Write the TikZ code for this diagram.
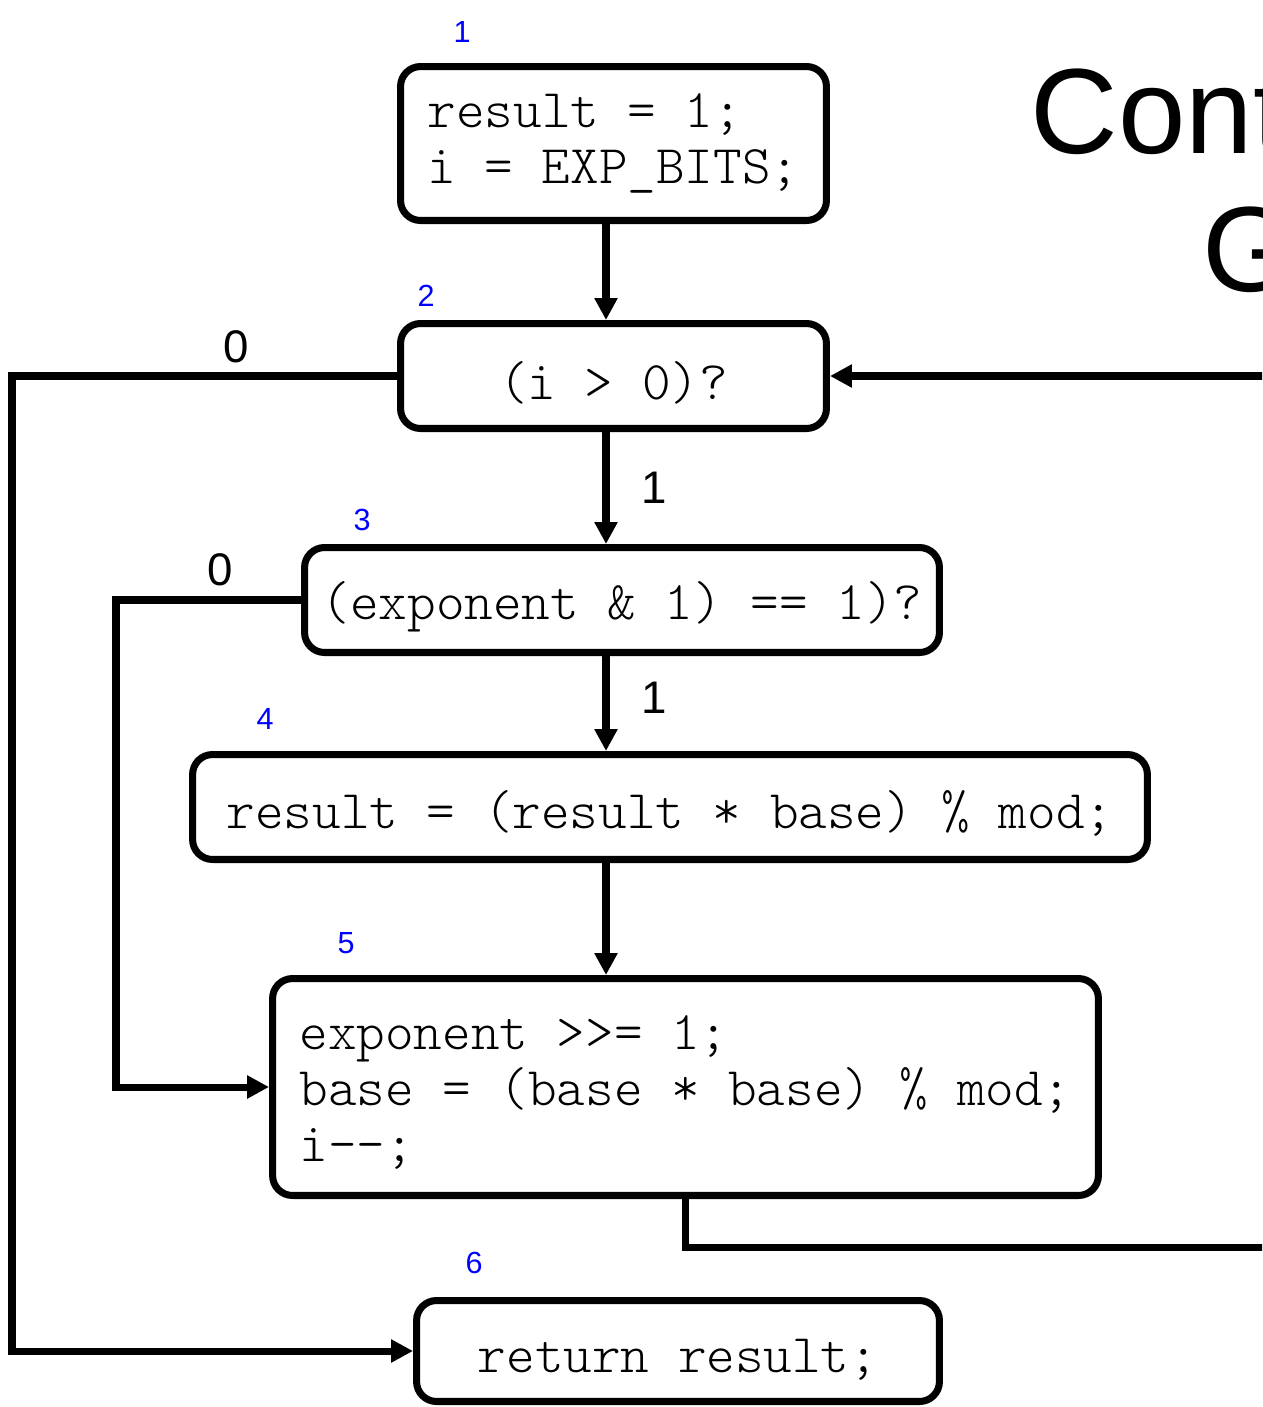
\documentclass[tikz,border=0pt]{standalone}
\usepackage{fontspec}
\usepackage{xcolor}
\usetikzlibrary{arrows.meta}
\setmonofont{Latin Modern Mono Light}
\newfontfamily\labelfont{Liberation Sans}
\newcommand{\topline}{\rule{0pt}{26pt}}

\begin{document}
\begin{tikzpicture}[x=0.02cm,y=-0.02cm,>={Triangle[length=0.44cm,width=0.44cm]},line width=4pt,
    block/.style={draw,rounded corners=0.4cm,align=left,inner sep=0pt,font=\ttfamily\fontsize{31}{31.9}\selectfont},
    single/.style={block,text height=29pt},
    num/.style={text=blue,font=\labelfont\fontsize{17.4}{20}\selectfont},
    branch/.style={font=\labelfont\fontsize{26}{30}\selectfont},
    heading/.style={align=center,font=\labelfont\fontsize{69}{78.2}\selectfont}]
    \useasboundingbox (0,0) rectangle (1262,1407);
    \clip (0,0) rectangle (1262,1407);

    % blocks
    \node[block,minimum width=8.52cm,minimum height=3.08cm] (1) at (613.5,143.5) {result = 1;\\i = EXP\_BITS;};
    \node[single,minimum width=8.52cm,minimum height=2.1cm] (2) at (613.5,376) {(i > 0)?};
    \node[single,minimum width=12.7cm,minimum height=2.1cm] (3) at (622,600) {(exponent \& 1) == 1)?};
    \node[single,minimum width=19.1cm,minimum height=2.1cm] (4) at (670,807) {result = (result * base) \% mod;};
    \node[block,minimum width=16.52cm,minimum height=4.34cm] (5) at (685.5,1087) {\topline exponent >>= 1;\\base = (base * base) \% mod;\\i-{}-;};
    \node[single,minimum width=10.46cm,minimum height=2.02cm] (6) at (678,1351) {return result;};

    % block numbers
    \node[num] (n1) at (462,32) {1};
    \node[num] (n2) at (426,296) {2};
    \node[num] (n3) at (362,520) {3};
    \node[num] (n4) at (265,719) {4};
    \node[num] (n5) at (346,943) {5};
    \node[num] (n6) at (474,1263) {6};

    \node[heading,anchor=base] (title) at (1371,291) {Control Flow\\Graph};

    \coordinate (spine) at (606,0);
    \coordinate (outer) at (12,0);
    \coordinate (inner) at (116,0);
    \coordinate (loop) at (1320,1247);

    % edges
    \draw[->] (1.south -| spine) -- (2.north -| spine);
    \draw[->] (2.south -| spine) -- node[branch,xshift=0.96cm] (l23) {1} (3.north -| spine);
    \draw[->] (3.south -| spine) -- node[branch,xshift=0.96cm,yshift=0.12cm] (l34) {1} (4.north -| spine);
    \draw[->] (4.south -| spine) -- (5.north -| spine);
    \draw[->] (2.west) -- node[branch,pos=0.418,yshift=0.58cm] (l26) {0} (2.west -| outer) |- (6.west);
    \draw[->] (3.west) -- node[branch,pos=0.438,yshift=0.6cm] (l35) {0} (3.west -| inner) |- (5.west);
    \draw[->] (5.south) |- (loop) |- (2.east);
\end{tikzpicture}
\end{document}
